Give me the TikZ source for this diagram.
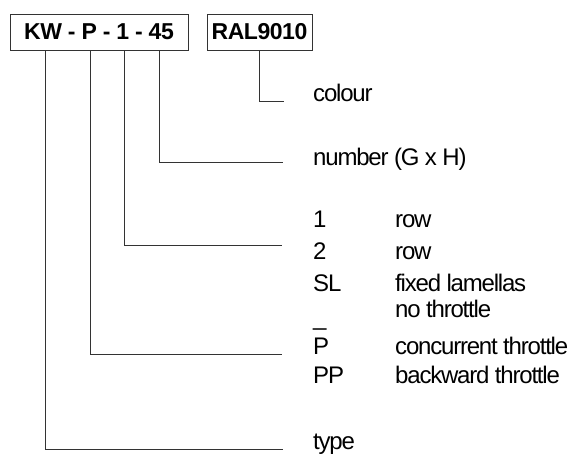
\documentclass[tikz,border=0pt]{standalone}
\usepackage{fontspec}
\setmainfont{Liberation Sans}[LetterSpace=-5]
\newcommand\txtfont{\fontsize{24}{28}\selectfont}
\newcommand\boxfont{\fontsize{23}{27}\selectfont\bfseries\addfontfeature{LetterSpace=-2}}
\tikzset{
  codebox/.style={draw=black!80, line width=0.9pt, inner sep=0pt, font=\boxfont, minimum height=36pt},
  lbl/.style={anchor=base west, inner sep=0pt, font=\txtfont, text=black},
  conn/.style={draw=black!80, line width=0.9pt}
}
\begin{document}
\begin{tikzpicture}[x=1pt,y=-1pt]
\useasboundingbox (0,0) rectangle (574,457);
\node[codebox, minimum width=178pt] (kw) at (99,32) {KW - P - 1 - 45};
\node[codebox, minimum width=105pt] (ral) at (259.5,32) {RAL9010};
% labels
\node[lbl] (colour) at (313,102) {colour};
\node[lbl] (number) at (313,166) {number (G x H)};
\node[lbl] (one) at (313,228) {1};
\node[lbl] (onerow) at (395,228) {row};
\node[lbl] (two) at (313,260) {2};
\node[lbl] (tworow) at (395,260) {row};
\node[lbl] (sl) at (313,292) {SL};
\node[lbl] (slt) at (395,292) {fixed lamellas};
\node[lbl] (us) at (313,326) {\_};
\node[lbl] (nothr) at (395,318) {no throttle};
\node[lbl] (p) at (313,355) {P};
\node[lbl] (pt) at (395,355) {concurrent throttle};
\node[lbl] (pp) at (313,384) {PP};
\node[lbl] (ppt) at (395,384) {backward throttle};
\node[lbl] (type) at (313,450) {type};
% connector ends
\coordinate (ecol) at (284,101);
\coordinate (enum) at (283,162);
\coordinate (erow) at (282,245);
\coordinate (ethr) at (282,354);
\coordinate (etype) at (283,449);
\coordinate (xkw) at (45,0);
\coordinate (xp) at (90,0);
\coordinate (xone) at (124,0);
\coordinate (xnum) at (159,0);
% connectors
\draw[conn] (ral.south) |- (ecol);
\draw[conn] (kw.south -| xnum) |- (enum);
\draw[conn] (kw.south -| xone) |- (erow);
\draw[conn] (kw.south -| xp) |- (ethr);
\draw[conn] (kw.south -| xkw) |- (etype);
\end{tikzpicture}
\end{document}
